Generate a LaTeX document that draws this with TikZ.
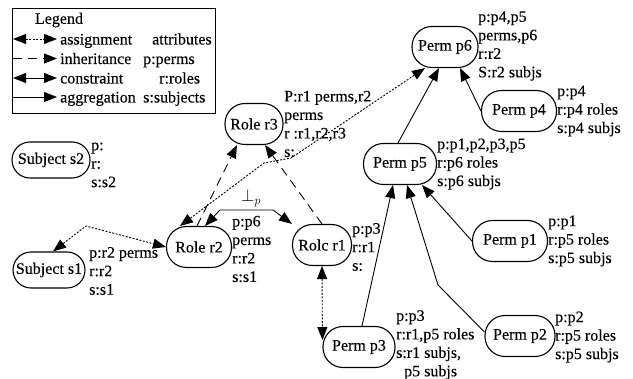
\documentclass[tikz,border=0pt]{standalone}
\usepackage{fontspec}
\setmainfont{Liberation Serif}[FakeBold=0.2]
\usetikzlibrary{arrows.meta}
\begin{document}
\begin{tikzpicture}[x=1pt,y=-1pt,
  every node/.style={font=\fontsize{16}{18.5}\selectfont},
  ent/.style={draw, line width=1.1pt, rounded corners=20pt, minimum height=41pt, inner sep=0pt},
  subj/.style={ent, rounded corners=18pt, minimum height=36pt},
  info/.style={anchor=west, align=left, inner sep=0pt},
  legtext/.style={anchor=base west, inner sep=0pt},
  link/.style={line width=0.9pt},
  assign/.style={link, dash pattern=on 2pt off 1.5pt, {Triangle[length=13pt,width=10pt]}-{Triangle[length=13pt,width=10pt]}},
  inherit/.style={link, dash pattern=on 9pt off 6pt, -{Triangle[length=13pt,width=10pt]}},
  constr/.style={link, {Triangle[length=13pt,width=10pt]}-{Triangle[length=13pt,width=10pt]}},
  aggr/.style={link, -{Triangle[length=13pt,width=10pt]}}]
\useasboundingbox (0,0) rectangle (633,379);

% legend
\node[draw, line width=1.1pt, minimum width=203pt, minimum height=105pt, anchor=north west] (legend) at (12,8) {};
\node (legtitle) at (59,20) {Legend};
\foreach \r/\yy in {a/39,b/58.5,c/78,d/97}{
  \coordinate (l\r1) at (13,\yy);
  \coordinate (l\r2) at (57,\yy);
}
\draw[assign] (la1) -- (la2);
\draw[inherit] (lb1) -- (lb2);
\draw[constr] (lc1) -- (lc2);
\draw[aggr] (ld1) -- (ld2);
\node[legtext] (lta) at (60,44.5) {assignment};
\node[legtext] (ltb) at (60,64) {inheritance};
\node[legtext] (ltc) at (60,83.5) {constraint};
\node[legtext] (ltd) at (60,102.5) {aggregation};
\node[legtext] (lka) at (152,44.5) {attributes};
\node[legtext] (lkb) at (143,64) {p:perms};
\node[legtext] (lkc) at (159,83.5) {r:roles};
\node[legtext] (lkd) at (143,102.5) {s:subjects};

% entities
\node[subj, minimum width=78pt] (s2) at (51,160) {Subject s2};
\node[subj, minimum width=72pt] (s1) at (49,270) {Subject s1};
\node[ent, minimum width=65pt] (r2) at (199,247) {Role r2};
\node[ent, minimum width=59pt] (r1) at (322,245) {Rolc r1};
\node[ent, minimum width=58pt] (r3) at (254,124) {Role r3};
\node[ent, minimum width=66pt] (p6) at (445,47) {Perm p6};
\node[ent, minimum width=75pt] (p4) at (519,111) {Perm p4};
\node[ent, minimum width=73pt] (p5) at (400,164) {Perm p5};
\node[ent, minimum width=75pt] (p1) at (510,241) {Perm p1};
\node[ent, minimum width=70pt] (p2) at (520,336) {Perm p2};
\node[ent, minimum width=72pt] (p3) at (359,347) {Perm p3};

% attribute lists
\node[info] (s2i) at (91,165) {p:\\r:\\s:s2};
\node[info] (s1i) at (89,271) {p:r2 perms\\r:r2\\s:s1};
\node[info] (r2i) at (232,249) {p:p6\\perms\\r:r2\\s:s1};
\node[info] (r1i) at (352,247) {p:p3\\r:r1\\s:};
\node[info] (r3i) at (284,124) {P:r1 perms,r2\\perms\\r :r1,r2,r3\\s:};
\node[info] (p6i) at (478,46) {p:p4,p5\\perms,p6\\r:r2\\S:r2 subjs};
\node[info] (p4i) at (557,111) {p:p4\\r:p4 roles\\s:p4 subjs};
\node[info] (p5i) at (437,164) {p:p1,p2,p3,p5\\r:p6 roles\\s:p6 subjs};
\node[info] (p1i) at (548,241) {p:p1\\r:p5 roles\\s:p5 subjs};
\node[info] (p2i) at (555,337) {p:p2\\r:p5 roles\\s:p5 subjs};
\node[info] (p3i) at (396,345) {p:p3\\r:r1,p5 roles\\s:r1 subjs,\\\hspace{8pt}p5 subjs};
\node[font=\fontsize{18}{20}\selectfont] (perp) at (251,198) {$\perp_{p}$};

% bend points
\coordinate (k1) at (86,226);
\coordinate (k2) at (264,163);
\coordinate (k3) at (291,158);
\coordinate (k4) at (220,210);
\coordinate (k5) at (273,210);
\coordinate (k6) at (438,285);

% assignment
\draw[assign] ([xshift=4pt]s1.north) -- (k1) -- (r2.west);
\draw[assign] ([xshift=-19pt]r2.north) -- (k2) -- (k3) -- ([xshift=-20pt]p6.south);
\draw[assign] (r1.south) -- ([yshift=7pt]p3.west);

% inheritance
\draw[inherit] ([xshift=-2pt]r2.north) -- ([xshift=-17pt]r3.south);
\draw[inherit] (r1.north) -- ([xshift=11pt]r3.south);

% constraint
\draw[constr] ([xshift=6pt]r2.north) -- (k4) -- (k5) -- (r1.north west);

% aggregation
\draw[aggr] ([xshift=-2pt]p5.north) -- ([xshift=-6pt]p6.south);
\draw[aggr] (p4.west) -- ([xshift=15pt]p6.south);
\draw[aggr] ([xshift=3pt]p3.north) -- ([xshift=-7pt]p5.south);
\draw[aggr] ([yshift=4pt]p2.west) -- (k6) -- ([xshift=7pt]p5.south);
\draw[aggr] (p1.west) -- ([xshift=22pt]p5.south);
\end{tikzpicture}
\end{document}
